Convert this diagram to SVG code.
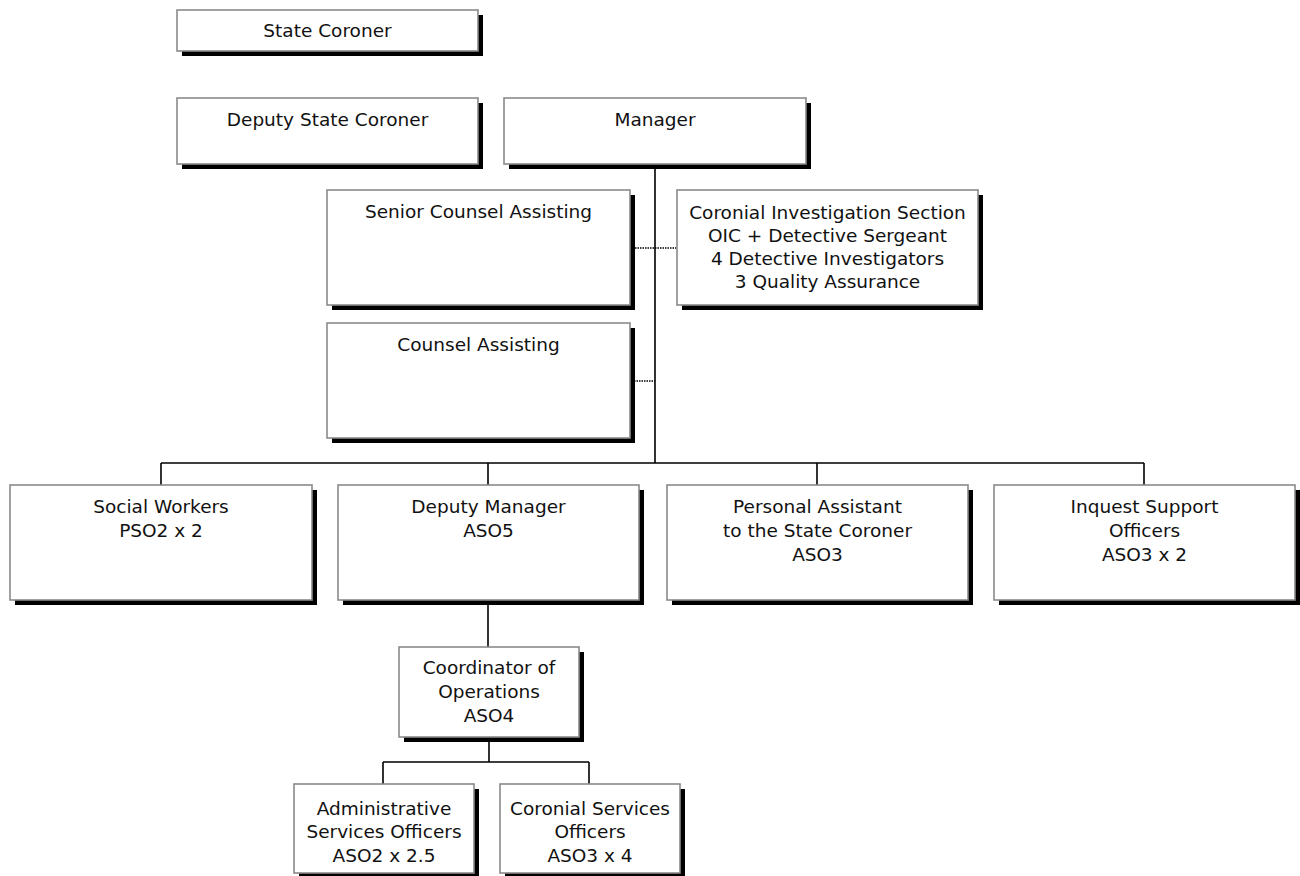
<svg xmlns="http://www.w3.org/2000/svg" width="1300" height="876" viewBox="0 0 1300 876">
<style>
.sh{fill:#000}
.bx{fill:#fff;stroke:#8a8a8a;stroke-width:1.6}
text{font-family:"DejaVu Sans",Verdana,sans-serif;font-size:18.5px;fill:#111;text-anchor:middle}
.ln{stroke:#000;stroke-width:1.6;fill:none}
.dt{stroke:#000;stroke-width:1.6;fill:none;stroke-dasharray:1.5 1}
</style>
<rect width="1300" height="876" fill="#fff"/>
<g id="connectors">
<path class="ln" d="M655,164 V463 M161,463 H1144 M161,463 V485 M488,463 V485 M817,463 V485 M1144,463 V485"/>
<path class="ln" d="M488,601 V647 M489,737 V762 M383,762 H589 M383,762 V784 M589,762 V784"/>
<path class="dt" d="M630,248 H676 M634,381 H655"/>
</g>
<g id="state-coroner">
<rect class="sh" x="182" y="15" width="301" height="41"/>
<rect class="bx" x="177" y="10" width="301" height="41"/>
<text x="327.5" y="37">State Coroner</text>
</g>
<g id="deputy-state-coroner">
<rect class="sh" x="182" y="103" width="301" height="66"/>
<rect class="bx" x="177" y="98" width="301" height="66"/>
<text x="327.5" y="126">Deputy State Coroner</text>
</g>
<g id="manager">
<rect class="sh" x="509" y="103" width="302" height="66"/>
<rect class="bx" x="504" y="98" width="302" height="66"/>
<text x="655" y="126">Manager</text>
</g>
<g id="senior-counsel">
<rect class="sh" x="332" y="195" width="303" height="115"/>
<rect class="bx" x="327" y="190" width="303" height="115"/>
<text x="478.5" y="218">Senior Counsel Assisting</text>
</g>
<g id="coronial-investigation">
<rect class="sh" x="682" y="195" width="301" height="115"/>
<rect class="bx" x="677" y="190" width="301" height="115"/>
<text x="827.5" y="219">Coronial Investigation Section</text>
<text x="827.5" y="242">OIC + Detective Sergeant</text>
<text x="827.5" y="265">4 Detective Investigators</text>
<text x="827.5" y="288">3 Quality Assurance</text>
</g>
<g id="counsel-assisting">
<rect class="sh" x="332" y="328" width="303" height="115"/>
<rect class="bx" x="327" y="323" width="303" height="115"/>
<text x="478.5" y="351">Counsel Assisting</text>
</g>
<g id="social-workers">
<rect class="sh" x="15" y="490" width="302" height="115"/>
<rect class="bx" x="10" y="485" width="302" height="115"/>
<text x="161" y="513">Social Workers</text>
<text x="161" y="537">PSO2 x 2</text>
</g>
<g id="deputy-manager">
<rect class="sh" x="343" y="490" width="301" height="115"/>
<rect class="bx" x="338" y="485" width="301" height="115"/>
<text x="488.5" y="513">Deputy Manager</text>
<text x="488.5" y="537">ASO5</text>
</g>
<g id="personal-assistant">
<rect class="sh" x="672" y="490" width="301" height="115"/>
<rect class="bx" x="667" y="485" width="301" height="115"/>
<text x="817.5" y="513">Personal Assistant</text>
<text x="817.5" y="537">to the State Coroner</text>
<text x="817.5" y="561">ASO3</text>
</g>
<g id="inquest-support">
<rect class="sh" x="999" y="490" width="301" height="115"/>
<rect class="bx" x="994" y="485" width="301" height="115"/>
<text x="1144.5" y="513">Inquest Support</text>
<text x="1144.5" y="537">Officers</text>
<text x="1144.5" y="561">ASO3 x 2</text>
</g>
<g id="coordinator">
<rect class="sh" x="404" y="652" width="180" height="90"/>
<rect class="bx" x="399" y="647" width="180" height="90"/>
<text x="489" y="674">Coordinator of</text>
<text x="489" y="698">Operations</text>
<text x="489" y="722">ASO4</text>
</g>
<g id="admin-services">
<rect class="sh" x="299" y="789" width="180" height="89"/>
<rect class="bx" x="294" y="784" width="180" height="89"/>
<text x="384" y="815">Administrative</text>
<text x="384" y="838">Services Officers</text>
<text x="384" y="862">ASO2 x 2.5</text>
</g>
<g id="coronial-services">
<rect class="sh" x="505" y="789" width="180" height="89"/>
<rect class="bx" x="500" y="784" width="180" height="89"/>
<text x="590" y="815">Coronial Services</text>
<text x="590" y="838">Officers</text>
<text x="590" y="862">ASO3 x 4</text>
</g>
</svg>
